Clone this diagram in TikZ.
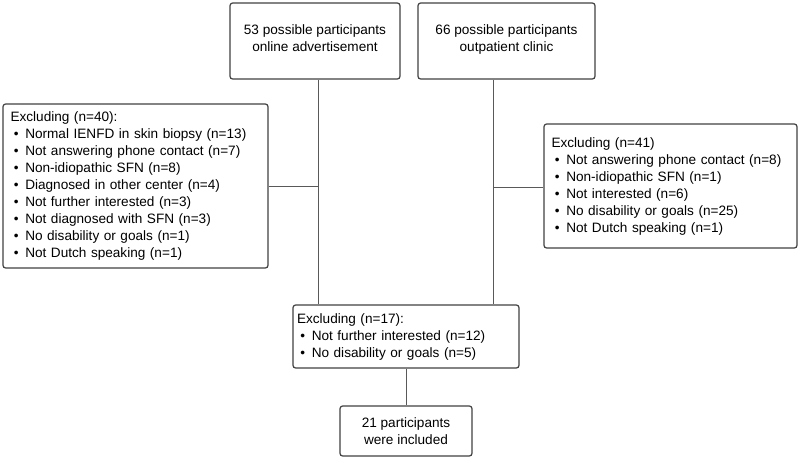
\documentclass[tikz,border=0pt]{standalone}
\usepackage{fontspec}
\setmainfont{Liberation Sans}
\usetikzlibrary{positioning,calc}

\newcommand{\bul}{\hspace*{2.5pt}\textbullet\hspace{5pt}}

\tikzset{
  box/.style={draw=black!75, line width=0.9pt, rounded corners=2pt, align=center,
    font=\fontsize{10.2}{12.75}\selectfont, inner sep=0pt},
  exclbox/.style={box, align=left},
  link/.style={draw=black!65, line width=0.75pt}
}

\begin{document}
\begin{tikzpicture}[x=0.75pt, y=-0.75pt]
    \useasboundingbox (0,0) rectangle (800,462);
    \node [box, minimum width=170*0.75pt, minimum height=76*0.75pt] (Online) at (315,41)
      {53 possible participants\\online advertisement\\[-12.5pt]\strut};
    \node [box, minimum width=177*0.75pt, minimum height=76*0.75pt] (Clinic) at (506.5,41)
      {66 possible participants\\outpatient clinic\\[-12.5pt]\strut};
    \node [exclbox, minimum width=265*0.75pt, minimum height=164*0.75pt,
      text width=250*0.75pt] (ExclOnline) at (135.5,186)
      {Excluding (n=40):\\
       \bul Normal IENFD in skin biopsy (n=13)\\
       \bul Not answering phone contact (n=7)\\
       \bul Non-idiopathic SFN (n=8)\\
       \bul Diagnosed in other center (n=4)\\
       \bul Not further interested (n=3)\\
       \bul Not diagnosed with SFN (n=3)\\
       \bul No disability or goals (n=1)\\
       \bul Not Dutch speaking (n=1)};
    \node [exclbox, minimum width=253*0.75pt, minimum height=124*0.75pt,
      text width=238*0.75pt] (ExclClinic) at (670.5,186)
      {Excluding (n=41)\\
       \bul Not answering phone contact (n=8)\\
       \bul Non-idiopathic SFN (n=1)\\
       \bul Not interested (n=6)\\
       \bul No disability or goals (n=25)\\
       \bul Not Dutch speaking (n=1)};
    \node [exclbox, minimum width=226*0.75pt, minimum height=63*0.75pt,
      text width=218*0.75pt] (ExclBoth) at (406,336.5)
      {Excluding (n=17):\\
       \bul Not further interested (n=12)\\
       \bul No disability or goals (n=5)};
    \node [box, minimum width=132*0.75pt, minimum height=50*0.75pt] (Included) at (406,431)
      {21 participants\\were included};

    % joints of the two streams
    \coordinate (jOnline) at (318,186);
    \coordinate (jClinic) at (493,187);

    \draw [link] (Online.south -| jOnline) -- (ExclBoth.north -| jOnline);
    \draw [link] (Clinic.south -| jClinic) -- (ExclBoth.north -| jClinic);
    \draw [link] (ExclOnline.east |- jOnline) -- (jOnline);
    \draw [link] (jClinic) -- (ExclClinic.west |- jClinic);
    \draw [link] (ExclBoth) -- (Included);
\end{tikzpicture}
\end{document}
